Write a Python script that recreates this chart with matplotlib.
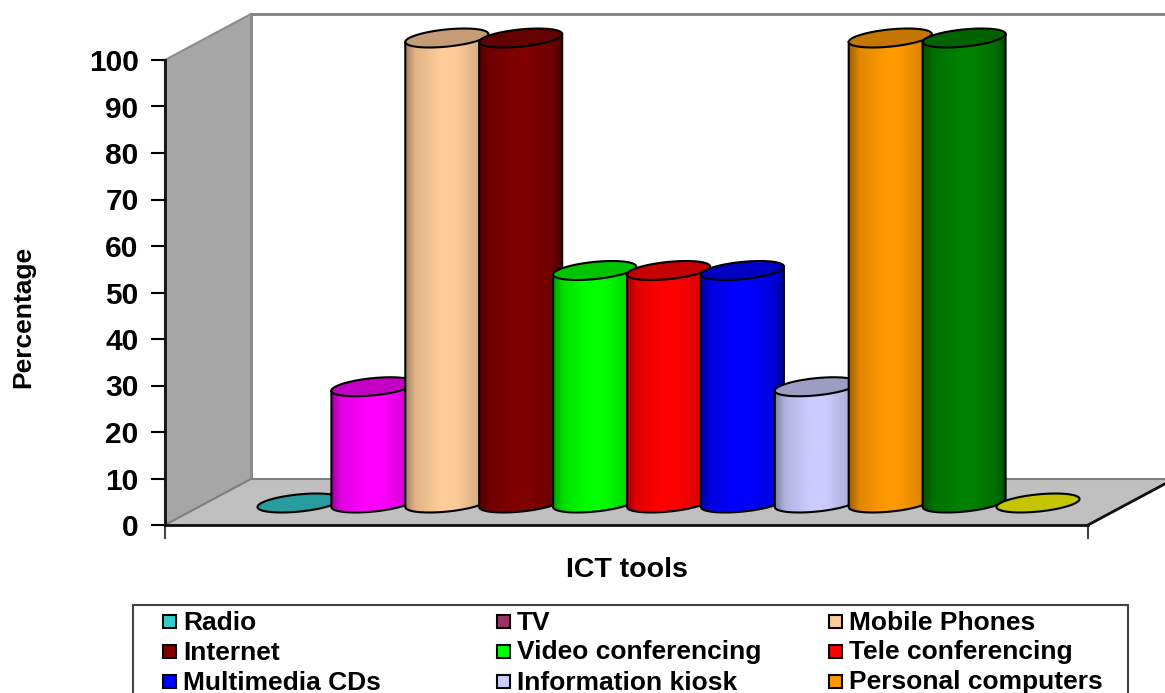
import numpy as np
import matplotlib
matplotlib.use("Agg")
import matplotlib.pyplot as plt
from matplotlib.colors import to_rgb
from matplotlib.patches import Polygon, Rectangle

plt.rcParams['font.family'] = ['Liberation Sans', 'DejaVu Sans']
plt.rcParams['font.weight'] = 'bold'

# one value per cylinder, left to right
values = [0, 25, 100, 100, 50, 50, 50, 25, 100, 100, 0]
bar_colors = ['#33CCCC', '#FF00FF', '#FFCC99', '#800000', '#00FF00', '#FF0000',
              '#0000FF', '#CCCCFF', '#FF9900', '#008000', '#FFFF00']

legend_labels = ['Radio', 'TV', 'Mobile Phones',
                 'Internet', 'Video conferencing', 'Tele conferencing',
                 'Multimedia CDs', 'Information kiosk', 'Personal computers']
legend_colors = ['#33CCCC', '#993366', '#FFCC99',
                 '#800000', '#00FF00', '#FF0000',
                 '#0000FF', '#CCCCFF', '#FF9900']
yticks = list(range(0, 101, 10))

W, H = 1165, 693
LEFT, RIGHT, BOTTOM, TOP = 165, 1088, 525, 60
FIRST_X, STEP_X = 299, 73.9

fig = plt.figure(figsize=(W / 100, H / 100), dpi=100, facecolor='white')
ax = fig.add_axes([LEFT / W, 1 - BOTTOM / H, (RIGHT - LEFT) / W, (BOTTOM - TOP) / H])
ax.set_facecolor('none')
ax.set_xlim((LEFT - FIRST_X) / STEP_X, (RIGHT - FIRST_X) / STEP_X)
ax.set_ylim(0, 100)
ax.set_autoscale_on(False)

# depth of the box, and the cylinder shape, in data units
unit_y = (BOTTOM - TOP) / 100
depth_x = 86 / STEP_X
depth_y = 46 / unit_y
base = 22 / unit_y
rx = 41.5 / STEP_X
ry = 8.6 / unit_y
lean = 4 / unit_y
x0, x1 = ax.get_xlim()

# back wall, side wall, floor
ax.add_patch(Polygon([(x0 + depth_x, depth_y), (x0 + depth_x, 100 + depth_y),
                      (x1 + depth_x, 100 + depth_y), (x1 + depth_x, depth_y)],
                     fc='white', ec='#808080', lw=2, zorder=0.5, clip_on=False))
ax.add_patch(Polygon([(x0, 0), (x0, 100), (x0 + depth_x, 100 + depth_y), (x0 + depth_x, depth_y)],
                     fc='#A6A6A6', ec='#8C8C8C', lw=1.5, zorder=0.6, clip_on=False))
ax.add_patch(Polygon([(x0, 0), (x0 + depth_x, depth_y), (x1 + depth_x, depth_y), (x1, 0)],
                     fc='#C0C0C0', ec='#808080', lw=1.5, zorder=0.7, clip_on=False))
ax.plot([x1, x1 + depth_x], [0, depth_y], color='#111111', lw=2, zorder=0.8, clip_on=False)

u = np.linspace(0, 1, 200)
shade = np.interp(u, [0, 0.12, 0.42, 0.6, 0.88, 1], [0.62, 0.88, 1, 1, 0.86, 0.58])
t = np.linspace(0, 2 * np.pi, 181)


def ellipse(cx, cy, angles):
    return np.column_stack([cx + rx * np.cos(angles),
                            cy + lean * np.cos(angles) + ry * np.sin(angles)])


for i, (val, col) in enumerate(zip(values, bar_colors)):
    z = 1 + i * 0.1
    rgb = np.array(to_rgb(col))
    top_y = base + val
    if val > 0:
        lower = ellipse(i, base, np.linspace(np.pi, 2 * np.pi, 91))
        outline = np.vstack([[(i - rx, top_y - lean)], lower, [(i + rx, top_y + lean)]])
        body = Polygon(outline, fc='none', ec='black', lw=1.5, zorder=z + 0.02, clip_on=False)
        ax.add_patch(body)
        grad = np.outer(shade, rgb).reshape(1, -1, 3)
        im = ax.imshow(grad, extent=[i - rx, i + rx, base - ry - lean, top_y + lean],
                       aspect='auto', zorder=z, interpolation='bilinear')
        # the tall cylinders rise above the y axis range
        im.set_clip_box(fig.bbox)
        im.set_clip_path(Polygon(outline, transform=ax.transData))
    ax.add_patch(Polygon(ellipse(i, top_y, t), fc=rgb * 0.77, ec='black', lw=1.5,
                         zorder=z + 0.05, clip_on=False))

ax.set_ylim(0, 100)
ax.set_xlim(x0, x1)
for side in ['top', 'right']:
    ax.spines[side].set_visible(False)
for side in ['left', 'bottom']:
    ax.spines[side].set_linewidth(2)
    ax.spines[side].set_color('#111111')
    ax.spines[side].set_zorder(5)
ax.set_yticks(yticks)
ax.set_xticks([x0, x1])
ax.set_xticklabels(['', ''])
ax.tick_params(axis='y', length=10, width=1.5, labelsize=21.5, pad=9)
ax.tick_params(axis='x', length=10, width=1.5, color='#444444')


def px(x, y):
    return x / W, 1 - y / H


fig.text(*px(23, 317), 'Percentage', rotation=90, ha='center', va='center', fontsize=19, color='black')
fig.text(*px(627, 570), 'ICT tools', ha='center', va='center', fontsize=20.5, color='black')

# legend box runs off the bottom of the figure
fig.add_artist(Rectangle(px(132.5, 720), (1128 - 132.5) / W, (720 - 605.5) / H,
                         transform=fig.transFigure, fc='white', ec='#444444', lw=1.5))
col_x = [163, 497, 829]
row_y = [621, 651, 681]
for k, (lab, col) in enumerate(zip(legend_labels, legend_colors)):
    sx = col_x[k % 3]
    sy = row_y[k // 3]
    fig.add_artist(Rectangle(px(sx, sy + 6.5), 13 / W, 13 / H, transform=fig.transFigure,
                             fc=col, ec='black', lw=1.5))
    fig.text(*px(sx + 20, sy + 8.5), lab, ha='left', va='baseline', fontsize=19, color='black')

fig.savefig('out.png', dpi=100)
